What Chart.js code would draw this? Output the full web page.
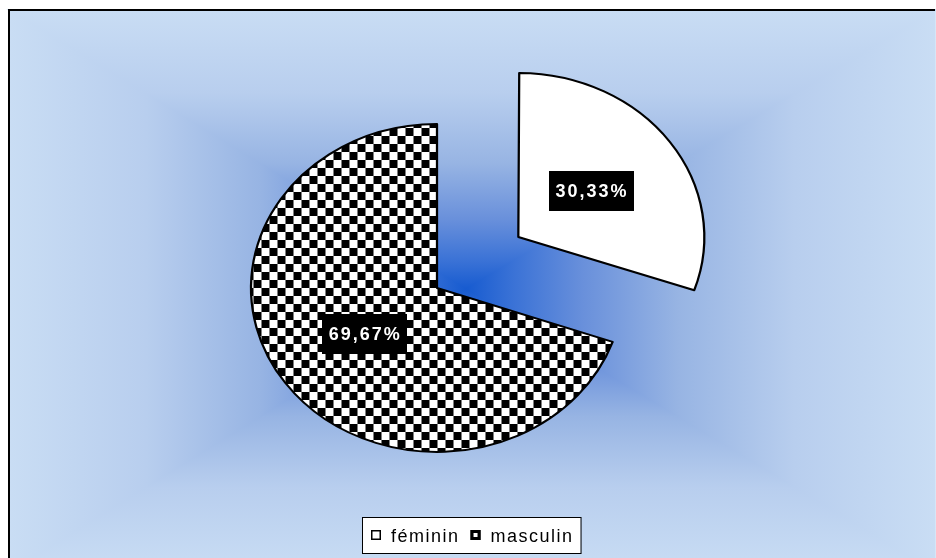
<!DOCTYPE html>
<html>
<head>
<meta charset="utf-8">
<script src="https://cdn.jsdelivr.net/npm/chart.js@4.4.1/dist/chart.umd.min.js"></script>
<style>
  html, body { margin: 0; padding: 0; background: #fff; }
  #wrap { width: 936px; height: 558px; position: relative; }
</style>
</head>
<body>
<div id="wrap"><canvas id="sexChart" width="936" height="558"></canvas></div>
<script>
// data
const labels = ['féminin', 'masculin'];
const values = [30.33, 69.67];
const valueLabels = ['30,33%', '69,67%'];

// the pie in the picture is a bit wider than tall
const STRETCH_X = 1.134;
const PIE_RADIUS = 164;

const canvas = document.getElementById('sexChart');
const ctx = canvas.getContext('2d');

function checker(size, sx) {
    const c = document.createElement('canvas');
    c.width = c.height = size * 2;
    const g = c.getContext('2d');
    g.fillStyle = '#fff';
    g.fillRect(0, 0, size * 2, size * 2);
    g.fillStyle = '#000';
    g.fillRect(0, 0, size, size);
    g.fillRect(size, size, size, size);
    const p = ctx.createPattern(c, 'repeat');
    if (sx) p.setTransform(new DOMMatrix([1 / sx, 0, 0, 1, 0, 0]));
    return p;
}

const piePattern = checker(8, STRETCH_X);

// rectangular "from centre" gradient behind everything
const backgroundPlugin = {
    id: 'background',
    beforeDraw(chart) {
        const c = chart.ctx;
        const x0 = 9, y0 = 10, x1 = 935, y1 = 572;
        const cx = 466, cy = 289;
        const stops = [[0, '#175bd0'], [0.1, '#3a72d6'], [0.25, '#6990db'], [0.45, '#97b4e3'], [0.7, '#b8ceee'], [1, '#c9ddf4']];
        c.save();
        c.fillStyle = '#fff';
        c.fillRect(0, 0, chart.width, chart.height);
        function tri(p1, p2, gx1, gy1) {
            const g = c.createLinearGradient(cx, cy, gx1, gy1);
            stops.forEach(s => g.addColorStop(s[0], s[1]));
            c.fillStyle = g;
            c.strokeStyle = g;
            c.lineWidth = 1.5;
            c.beginPath();
            c.moveTo(p1[0], p1[1]);
            c.lineTo(p2[0], p2[1]);
            c.lineTo(cx, cy);
            c.closePath();
            c.fill();
            c.stroke();
        }
        tri([x0, y0], [x1, y0], cx, y0);
        tri([x1, y0], [x1, y1], x1, cy);
        tri([x1, y1], [x0, y1], cx, y1);
        tri([x0, y1], [x0, y0], x0, cy);
        c.strokeStyle = '#000';
        c.lineWidth = 2;
        c.beginPath();
        c.moveTo(9, chart.height);
        c.lineTo(9, 10);
        c.lineTo(x1, 10);
        c.stroke();
        c.restore();
    }
};

// stretch pie horizontally, then write the value boxes
const pieLabelsPlugin = {
    id: 'pieLabels',
    beforeDatasetsDraw(chart) {
        const meta = chart.getDatasetMeta(0);
        // exploded slices get a slightly larger radius in Chart.js, keep them all equal
        meta.data.forEach(arc => {
            const push = (arc.options.offset || 0) / 4;
            const fix = 1 - Math.sin(Math.min(Math.PI, arc.circumference || 0));
            arc.outerRadius = PIE_RADIUS - push * fix;
        });
        const cx = meta.data[0].x;
        chart.ctx.save();
        chart.ctx.translate(cx, 0);
        chart.ctx.scale(STRETCH_X, 1);
        chart.ctx.translate(-cx, 0);
    },
    afterDatasetsDraw(chart) {
        const c = chart.ctx;
        c.restore();
        const meta = chart.getDatasetMeta(0);
        c.save();
        c.font = 'bold 18px "Liberation Sans", Arial, sans-serif';
        c.letterSpacing = '2px';
        c.textAlign = 'center';
        c.textBaseline = 'middle';
        meta.data.forEach((arc, i) => {
            const mid = (arc.startAngle + arc.endAngle) / 2;
            const push = (arc.options.offset || 0) / 4;
            const d = PIE_RADIUS * 0.48 + push;
            const px = arc.x + STRETCH_X * Math.cos(mid) * d;
            const py = arc.y + Math.sin(mid) * d;
            const txt = valueLabels[i];
            const w = c.measureText(txt).width + 12;
            const h = 40;
            c.fillStyle = '#000';
            c.fillRect(Math.round(px - w / 2), Math.round(py - h / 2), Math.round(w), h);
            c.fillStyle = '#fff';
            c.fillText(txt, px + 1, py + 1);
        });
        c.restore();
    }
};

// boxed legend at the bottom
const legendBoxPlugin = {
    id: 'legendBox',
    afterDraw(chart) {
        const c = chart.ctx;
        const colors = chart.data.datasets[0].backgroundColor;
        c.save();
        c.font = '18px "Liberation Sans", Arial, sans-serif';
        c.letterSpacing = '1.5px';
        c.textBaseline = 'alphabetic';
        const box = 10, gap = 10, itemGap = 11, pad = 9;
        const widths = chart.data.labels.map(l => c.measureText(l).width);
        let total = pad * 2 - 2;
        widths.forEach((w, i) => { total += box + gap + w + (i ? itemGap : 0); });
        const bx = Math.round(471 - total / 2), by = 517, bh = 36;
        c.fillStyle = '#fff';
        c.fillRect(bx, by, total, bh);
        c.strokeStyle = '#000';
        c.lineWidth = 1;
        c.strokeRect(bx + 0.5, by + 0.5, total, bh);
        let x = bx + pad;
        chart.data.labels.forEach((l, i) => {
            if (i) x += itemGap;
            c.fillStyle = colors[i] === piePattern ? '#000' : colors[i];
            c.fillRect(x, 530, box, box);
            if (colors[i] === piePattern) {
                c.fillStyle = '#fff';
                c.fillRect(x + 3, 533, 4, 4);
            }
            c.strokeStyle = '#000';
            c.lineWidth = 1.5;
            c.strokeRect(x + 0.75, 530.75, box - 1.5, box - 1.5);
            x += box + gap;
            c.fillStyle = '#000';
            c.fillText(l, x, 542);
            x += widths[i];
        });
        c.restore();
    }
};

new Chart(ctx, {
    type: 'pie',
    data: {
        labels: labels,
        datasets: [{
            data: values,
            backgroundColor: ['#ffffff', piePattern],
            borderColor: '#000',
            borderWidth: 2,
            borderJoinStyle: 'round',
            offset: [352, 0],
            clip: false
        }]
    },
    options: {
        responsive: false,
        animation: false,
        radius: PIE_RADIUS,
        layout: {
            padding: { top: 18, right: 62, left: 0, bottom: 0 }
        },
        plugins: {
            legend: { display: false },
            tooltip: { enabled: false }
        }
    },
    plugins: [backgroundPlugin, pieLabelsPlugin, legendBoxPlugin]
});
</script>
</body>
</html>
